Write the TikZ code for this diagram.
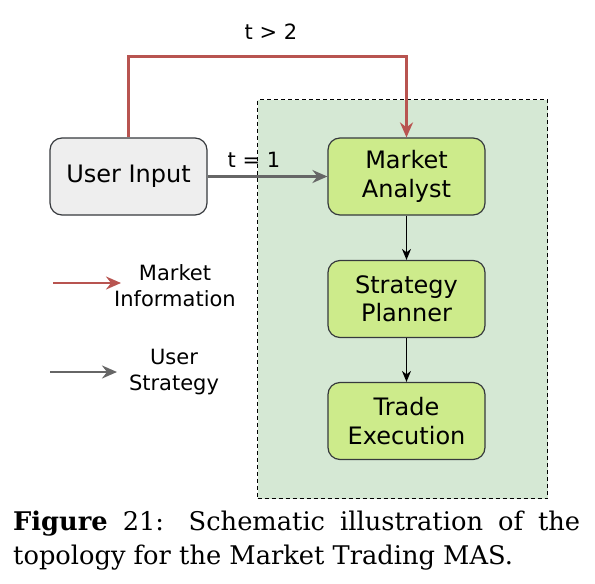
\documentclass[tikz,border=0pt]{standalone}
\usepackage{fontspec}
\setmainfont{DejaVu Sans}
\newfontfamily\capfont{DejaVu Serif}
\usetikzlibrary{arrows.meta}
\definecolor{redc}{HTML}{B85450}
\definecolor{grayc}{HTML}{666666}
\definecolor{greenc}{HTML}{D5E8D4}
\definecolor{agentc}{HTML}{CDEB8B}
\definecolor{strokec}{HTML}{36393D}
\definecolor{inputc}{HTML}{EEEEEE}
\begin{document}
\begin{tikzpicture}[x=1pt,y=-1pt,
  agent/.style={draw=strokec, fill=agentc, rounded corners=12pt, line width=1.2pt,
    minimum width=157pt, minimum height=77pt, align=center, inner sep=0pt,
    font=\fontsize{24}{28.5}\selectfont},
  system/.style={draw=black, fill=greenc, line width=1.2pt, dash pattern=on 4pt off 3pt,
    minimum width=290pt, minimum height=399pt, inner sep=0pt},
  redarrow/.style={draw=redc, line width=2.4pt, -{Stealth[length=15pt,width=13pt,inset=5pt]}},
  grayarrow/.style={draw=grayc, line width=2.4pt, -{Stealth[length=15pt,width=13pt,inset=5pt]}},
  flowarrow/.style={draw=black, line width=1.3pt, -{Stealth[length=11pt,width=9pt,inset=3.5pt]}},
  lbl/.style={font=\fontsize{21}{24}\selectfont, inner sep=0pt},
  legend/.style={font=\fontsize{21}{26}\selectfont, align=center, inner sep=0pt},
  caption/.style={font=\capfont\fontsize{25.7}{33}\selectfont, inner sep=0pt, anchor=base west}]
\useasboundingbox (0,0) rectangle (595,584);
\node[system, anchor=north west] (sys) at (257,99) {};
\node[agent, fill=inputc] (ui) at (128.5,176.5) {User Input};
\node[agent] (ma) at (406.5,176.5) {Market\\Analyst};
\node[agent] (sp) at (406.5,299) {Strategy\\Planner};
\node[agent] (te) at (406.5,421) {Trade\\Execution};
\draw[redarrow] (ui.north) -- ++(0,-81) -| (ma.north);
\node[lbl] (t2) at (271,32) {t > 2};
\draw[grayarrow] (ui.east) -- (ma.west);
\node[lbl] (t1) at (254,160) {t = 1};
\draw[flowarrow] (ma.south) -- (sp.north);
\draw[flowarrow] (sp.south) -- (te.north);
\coordinate (l1a) at (53,283);
\coordinate (l1b) at (121,283);
\draw[redarrow] (l1a) -- (l1b);
\node[legend] (mi) at (175,286) {Market\\Information};
\coordinate (l2a) at (50,372);
\coordinate (l2b) at (117,372);
\draw[grayarrow] (l2a) -- (l2b);
\node[legend] (us) at (174,372) {User\\Strategy};
\node[caption] (cap1) at (13,530) {\makebox[567pt][s]{\textbf{Figure} 21: Schematic illustration of the}};
\node[caption] (cap2) at (13,564) {topology for the Market Trading MAS.};
\end{tikzpicture}
\end{document}
